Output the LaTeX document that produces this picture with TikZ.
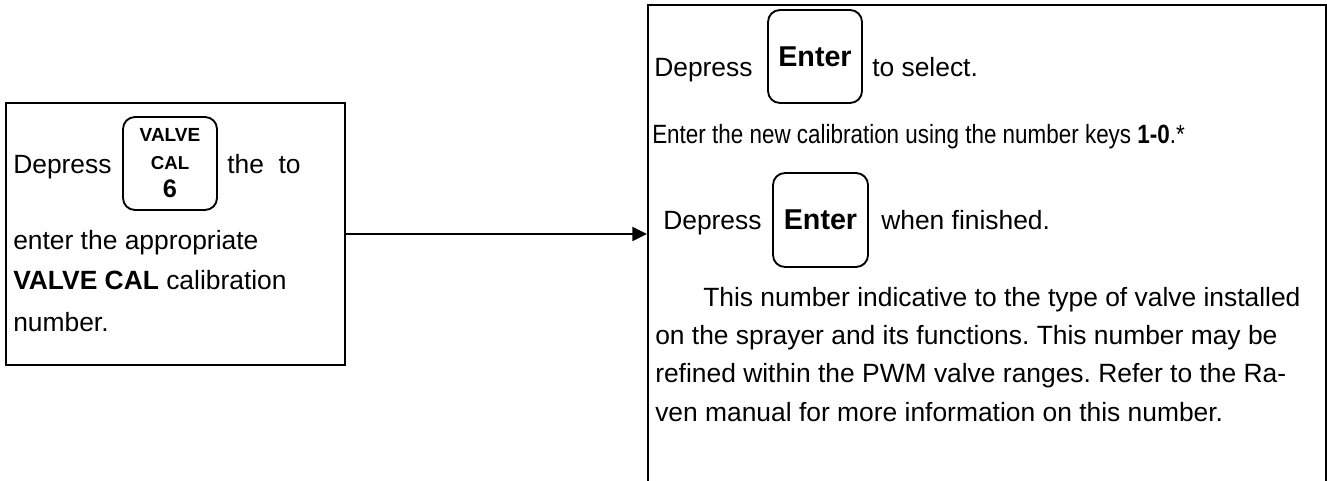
\documentclass[tikz,border=0pt]{standalone}
\usepackage{fontspec}
\setmainfont{Liberation Sans}
\usetikzlibrary{arrows.meta}
\frenchspacing
\begin{document}
\begin{tikzpicture}[x=0.75pt,y=-0.75pt,
  box/.style={draw, line width=1.5pt, inner sep=0pt},
  keybox/.style={draw, line width=1.4pt, rounded corners=9pt, inner sep=0pt},
  txt/.style={inner sep=0pt, anchor=base west, font=\fontsize{19.8}{29}\selectfont},
  keytxt/.style={font=\fontsize{21.5}{24}\selectfont\bfseries},
  link/.style={line width=1.4pt, -{Triangle[length=11pt,width=10.5pt]}}
]
\useasboundingbox (0,0) rectangle (1327,481);
\clip (0,0) rectangle (1327,481);
% boxes
\node[box, anchor=north west, minimum width=254.25pt, minimum height=196.5pt] (lb) at (5,102) {};
\node[box, anchor=north west, minimum width=508.5pt, minimum height=400pt] (rb) at (647,4) {};
% left box content
\node[txt] (l1a) at (13,174) {Depress};
\node[keybox, minimum width=70.5pt, minimum height=69.75pt, align=center,
      font=\fontsize{14.25}{21}\selectfont\bfseries] (vk) at (170,163.5)
  {VALVE\\{\fontsize{14}{20}\selectfont CAL}\\{\fontsize{19}{21}\selectfont 6}};
\node[txt] (l1b) at (227,174) {the\ \ to};
\node[txt] (l2) at (13,249) {enter the appropriate};
\node[txt] (l3) at (13,289) {\textbf{VALVE CAL} calibration};
\node[txt] (l4) at (13,331) {number.};
% right box content
\node[txt] (r1a) at (654,77) {Depress};
\node[keybox, keytxt, minimum width=70.5pt, minimum height=69.75pt] (k1) at (815,56.5) {Enter};
\node[txt] (r1b) at (872,77) {to select.};
\node[txt] (r2) at (652,144) {\scalebox{0.85}[1]{Enter the new calibration using the number keys \textbf{1-0}.*}};
\node[txt] (r3a) at (663,229) {Depress};
\node[keybox, keytxt, minimum width=71.25pt, minimum height=70.5pt] (k2) at (820.5,220) {Enter};
\node[txt] (r3b) at (881,229) {when finished.};
\node[txt] (p1) at (703,306) {This number indicative to the type of valve installed};
\node[txt] (p2) at (655,344) {on the sprayer and its functions. This number may be};
\node[txt] (p3) at (655,382) {refined within the PWM valve ranges. Refer to the Ra-};
\node[txt] (p4) at (655,421) {ven manual for more information on this number.};
% connector
\draw[link] (lb.east) -- (lb.east -| rb.west);
\end{tikzpicture}
\end{document}
